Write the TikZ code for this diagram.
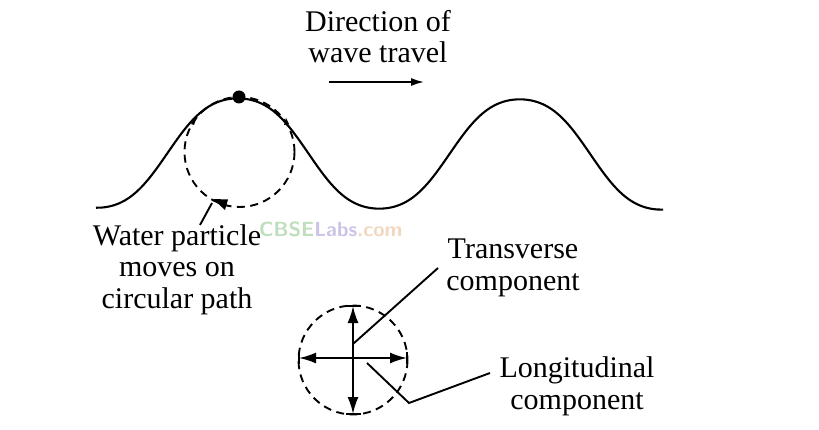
\documentclass[tikz,border=0pt]{standalone}
\usepackage{fontspec}
\setmainfont{Liberation Serif}
\usetikzlibrary{arrows.meta}
\tikzset{
 lab/.style={inner sep=0pt,align=center,font=\fontsize{30}{31.5}\selectfont,text=black},
 wave/.style={line width=2.1pt,line join=round},
 dashcirc/.style={line width=1.9pt,dash pattern=on 8pt off 5.5pt},
 lead/.style={line width=1.9pt},
 arr/.style={line width=2pt,-{Latex[length=17pt,width=11pt]}},
 wm/.style={inner sep=0pt,font=\fontsize{20.5}{22}\selectfont\bfseries\sffamily}
}
\definecolor{wmg}{RGB}{190,222,190}
\definecolor{wmp}{RGB}{205,195,230}
\definecolor{wmo}{RGB}{240,215,190}
\begin{document}
\begin{tikzpicture}[x=1pt,y=-1pt]
\useasboundingbox (0,0) rectangle (819,430);
\fill[white] (0,0) rectangle (819,430);
% wave
\draw[wave] plot[smooth,domain=96:663,samples=100] (\x,{152.5-57.5*(cos((\x-238)*1.2766)-0.045*cos(3*(\x-238)*1.2766))+\x/300});
\node[circle,fill=black,minimum size=13pt,inner sep=0pt] (pt) at (239,97) {};
% orbit
\coordinate (oc) at (239.5,152);
\draw[dashcirc] (oc) circle[radius=55];
\fill (191,124) -- (197,116) -- (194,125) -- cycle;
\fill (284,125) -- (286,118) -- (289,124) -- cycle;
\coordinate (orbArrow) at (213,199);
\fill (orbArrow) -- (228,199.5) -- (225,210) -- cycle;
\coordinate (ptr1) at (200,225);
\draw[lead] (ptr1) -- (212,203);
% direction
\node[lab] (dir) at (378,36.5) {Direction of\\wave travel};
\coordinate (da) at (329,82);
\coordinate (db) at (424,82);
\draw[line width=1.7pt,-{Latex[length=13pt,width=8pt]}] (da) -- (db);
% labels
\node[lab] (wp) at (177,269.5) {Water particle\\moves on\\circular path};
\node[lab] (tc) at (513,268) {Transverse\\component};
\node[lab] (lc) at (577,386.5) {Longitudinal\\component};
% watermark
\node[wm,anchor=west] (wm) at (259,229) {\textcolor{wmg}{CBSE}\textcolor{wmp}{Labs}\textcolor{wmo}{.com}};
% lower circle
\coordinate (c2) at (353,360);
\draw[dashcirc] (c2) circle[radius=54.5];
\coordinate (n) at (353,306);
\coordinate (s) at (353,414);
\coordinate (w) at (299,358);
\coordinate (e) at (407,358);
\coordinate (o) at (353,358);
\draw[arr] (o) -- (n);
\draw[arr] (o) -- (s);
\draw[arr] (o) -- (w);
\draw[arr] (o) -- (e);
\draw[lead] (346,306) -- (361,306);
\draw[lead] (346,414) -- (361,414);
\draw[lead] (299,352) -- (299,364);
\draw[lead] (407,352) -- (407,364);
\draw[lead] (353,344) -- (438,268);
\draw[lead] (367,363) -- (409,403) -- (490,373);
\end{tikzpicture}
\end{document}
